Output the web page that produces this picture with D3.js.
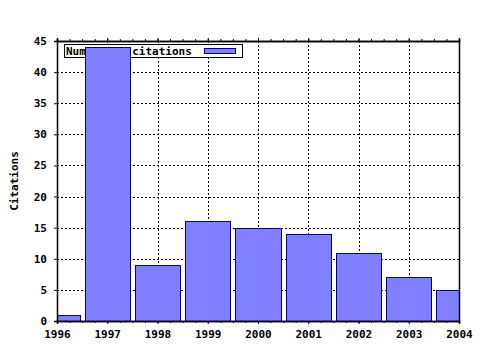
<!DOCTYPE html>
<html>
<head>
<meta charset="utf-8">
<script src="https://cdn.jsdelivr.net/npm/d3@7"></script>
<style>
  body { margin: 0; background: #fff; }
  text { font-family: "DejaVu Sans Mono", monospace; font-weight: bold; font-size: 11px; fill: #000; }
</style>
</head>
<body>
<div id="chart"></div>
<script>
// chart data
var years = [1996, 1997, 1998, 1999, 2000, 2001, 2002, 2003, 2004];
var citations = [1, 44, 9, 16, 15, 14, 11, 7, 5];
var yTicks = [0, 5, 10, 15, 20, 25, 30, 35, 40, 45];
var seriesName = "Number of citations";

var svgWidth = 480, svgHeight = 350;
var margin = { top: 41, right: 21, bottom: 29, left: 57 };
var width = svgWidth - margin.left - margin.right;
var height = svgHeight - margin.top - margin.bottom;

var svg = d3.select("#chart").append("svg")
    .attr("width", svgWidth)
    .attr("height", svgHeight);

var g = svg.append("g")
    .attr("transform", `translate(${margin.left}, ${margin.top})`);

var x = d3.scaleLinear().domain([1996, 2004]).range([0, width]);
var y = d3.scaleLinear().domain([0, 45]).range([height, 0]);

// dotted grid
g.selectAll(".hgrid").data(yTicks.slice(1, -1)).enter().append("line")
    .attr("x1", 0).attr("x2", width)
    .attr("y1", d => Math.round(y(d)) + 0.5).attr("y2", d => Math.round(y(d)) + 0.5)
    .attr("stroke", "#000").attr("stroke-dasharray", "2,2");
g.selectAll(".vgrid").data(years.slice(1, -1)).enter().append("line")
    .attr("y1", 0).attr("y2", height)
    .attr("x1", d => Math.round(x(d)) + 0.5).attr("x2", d => Math.round(x(d)) + 0.5)
    .attr("stroke", "#000").attr("stroke-dasharray", "2,2");

// legend (drawn under the bars)
var legend = g.append("g").attr("transform", "translate(7, 3)");
legend.append("rect")
    .attr("x", 0.5).attr("y", 0.5).attr("width", 178).attr("height", 13)
    .attr("fill", "#fff").attr("stroke", "#000");
legend.append("text").attr("x", 2).attr("y", 10.5).text(seriesName);
legend.append("rect")
    .attr("x", 140.5).attr("y", 4.5).attr("width", 31).attr("height", 5)
    .attr("fill", "#7f7fff").attr("stroke", "#00008b");

// bars, clipped to plot area
svg.append("clipPath").attr("id", "plotClip")
    .append("rect").attr("width", width).attr("height", height + 1);

g.append("g").attr("clip-path", "url(#plotClip)")
    .selectAll("rect").data(years).enter().append("rect")
    .attr("x", d => Math.round(x(d - 0.45)) + 0.5)
    .attr("width", d => Math.round(x(d + 0.45)) - Math.round(x(d - 0.45)))
    .attr("y", (d, i) => Math.round(y(citations[i])) + 0.5)
    .attr("height", (d, i) => Math.round(y(0)) - Math.round(y(citations[i])))
    .attr("fill", "#7f7fff")
    .attr("stroke", "#00008b");

// axes
var minorX = d3.range(1996, 2004.01, 0.25);
var xAxis = d3.axisBottom(x).tickValues(years).tickFormat(d3.format("d")).tickSize(3).tickPadding(6);
var xMinor = d3.axisBottom(x).tickValues(minorX).tickFormat("").tickSize(2);
var yAxis = d3.axisLeft(y).tickValues(yTicks).tickSize(3).tickPadding(7);

g.append("g").attr("transform", `translate(0, ${height})`).call(xMinor);
g.append("g").attr("transform", `translate(0, ${height})`).call(xAxis);
g.append("g").call(yAxis);
g.append("g").call(d3.axisTop(x).tickValues(minorX).tickFormat("").tickSize(2));
g.append("g").call(d3.axisTop(x).tickValues(years).tickFormat("").tickSize(3));
g.append("g").attr("transform", `translate(${width}, 0)`)
    .call(d3.axisRight(y).tickValues(yTicks).tickFormat("").tickSize(0));

g.selectAll(".domain").attr("stroke", "#000").attr("stroke-width", 1.5);
g.selectAll(".tick text").style("font-size", "11px").style("font-family", "DejaVu Sans Mono").style("font-weight", "bold");

// y axis label
svg.append("text")
    .attr("transform", "rotate(-90)")
    .attr("x", -(margin.top + height / 2))
    .attr("y", 18)
    .attr("text-anchor", "middle")
    .text("Citations");
</script>
</body>
</html>
